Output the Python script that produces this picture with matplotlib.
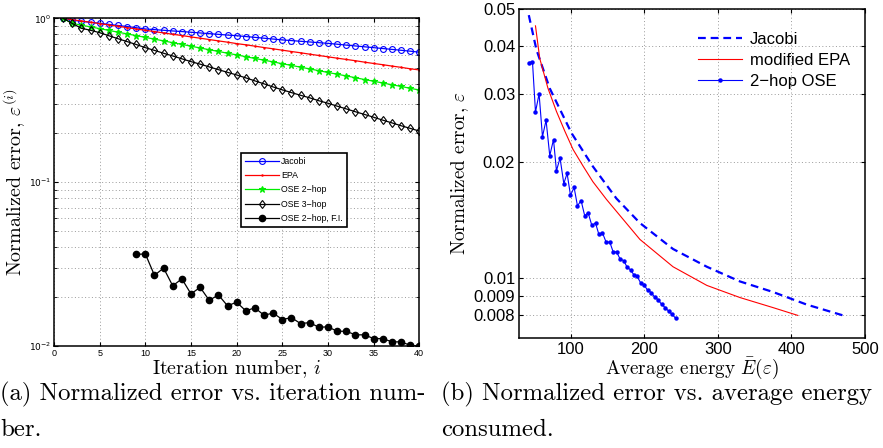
import numpy as np
import matplotlib
matplotlib.use("Agg")
import matplotlib.pyplot as plt
from matplotlib.ticker import FixedLocator, NullLocator, NullFormatter, FixedFormatter

plt.rcParams["mathtext.fontset"] = "cm"
plt.rcParams["axes.formatter.use_mathtext"] = True

SANS = "Liberation Sans"
SERIF = "cmr10"

# ---- panel (a): error vs iteration ----
iterations = list(range(1, 41))
jacobi = [1.000, 0.975, 0.958, 0.945, 0.933, 0.918, 0.904, 0.891, 0.876, 0.861,
          0.853, 0.845, 0.837, 0.830, 0.822, 0.814, 0.806, 0.798, 0.790, 0.783,
          0.774, 0.765, 0.756, 0.747, 0.738, 0.731, 0.724, 0.717, 0.710, 0.703,
          0.695, 0.686, 0.678, 0.670, 0.662, 0.654, 0.646, 0.638, 0.630, 0.621]
epa = [1.000, 0.981, 0.963, 0.946, 0.928, 0.911, 0.894, 0.877, 0.861, 0.845,
       0.830, 0.814, 0.799, 0.785, 0.770, 0.756, 0.742, 0.728, 0.715, 0.701,
       0.689, 0.676, 0.663, 0.651, 0.639, 0.627, 0.616, 0.604, 0.593, 0.582,
       0.571, 0.561, 0.551, 0.540, 0.530, 0.521, 0.511, 0.502, 0.492, 0.484]
ose2 = [1.000, 0.931, 0.908, 0.886, 0.865, 0.844, 0.823, 0.803, 0.784, 0.765,
        0.746, 0.728, 0.710, 0.693, 0.676, 0.659, 0.643, 0.628, 0.612, 0.598,
        0.583, 0.569, 0.555, 0.542, 0.528, 0.516, 0.503, 0.491, 0.479, 0.467,
        0.456, 0.445, 0.434, 0.423, 0.413, 0.403, 0.393, 0.384, 0.374, 0.365]
ose3 = [1.000, 0.930, 0.869, 0.845, 0.817, 0.783, 0.751, 0.721, 0.692, 0.662,
        0.637, 0.612, 0.589, 0.566, 0.544, 0.525, 0.505, 0.486, 0.468, 0.451,
        0.433, 0.415, 0.398, 0.381, 0.366, 0.352, 0.339, 0.327, 0.314, 0.303,
        0.291, 0.280, 0.269, 0.259, 0.249, 0.239, 0.230, 0.221, 0.213, 0.205]
fi_iter = list(range(9, 41))
ose2_fi = [0.0362, 0.0365, 0.0270, 0.0299, 0.0233, 0.0257, 0.0208, 0.0228,
           0.0190, 0.0205, 0.0176, 0.0185, 0.0164, 0.0171, 0.0154, 0.0159,
           0.0145, 0.0149, 0.0137, 0.0139, 0.0130, 0.0131, 0.0123, 0.0123,
           0.0117, 0.0117, 0.0111, 0.0111, 0.0106, 0.0106, 0.0101, 0.0100]

# ---- panel (b): error vs average energy ----
jac_energy = [42.9, 53.3, 71.4, 101, 130, 162, 194, 239, 285, 330, 375, 421, 470]
jac_err = [0.0482, 0.0392, 0.0311, 0.0238, 0.0195, 0.0161, 0.0139, 0.0119,
           0.0107, 0.0098, 0.0092, 0.00853, 0.0080]
mepa_energy = [52, 57.8, 69, 80.5, 91.8, 103, 117, 130, 148.6, 194, 239, 285,
               330, 375, 408.5]
mepa_err = [0.0452, 0.0372, 0.0311, 0.0271, 0.0241, 0.0216, 0.0195, 0.0178,
            0.0160, 0.0126, 0.0107, 0.00957, 0.0089, 0.00838, 0.0080]
ose_energy = [42.9, 47.9, 52.0, 56.9, 61.5, 66.4, 71.4, 76.5, 80.5, 85.4,
              90.5, 95.0, 99.6, 104.5, 109.1, 114.0, 119.0, 123.5, 128.6, 133.6,
              138.1, 143.1, 148.0, 153.0, 157.6, 162.2, 167.1, 172.1, 176.2,
              181.2, 185.7, 190.2, 194.8, 199.7, 204.3, 209.3, 213.9, 218.8,
              223.4, 228.3, 232.9, 237.8, 242.4]
ose_err = [0.0363, 0.0365, 0.0270, 0.0301, 0.0233, 0.0257, 0.0208, 0.0229,
           0.0190, 0.0205, 0.0176, 0.0187, 0.0164, 0.0172, 0.0154, 0.0159,
           0.0145, 0.0148, 0.0137, 0.0139, 0.0130, 0.0131, 0.0124, 0.0124,
           0.0117, 0.0117, 0.0112, 0.0111, 0.0107, 0.0105, 0.0102, 0.0101,
           0.00973, 0.00959, 0.00931, 0.00917, 0.00893, 0.00878, 0.00855,
           0.00838, 0.00821, 0.00805, 0.00787]

right_yticks = [0.008, 0.009, 0.01, 0.02, 0.03, 0.04, 0.05]
right_ylabels = ["0.008", "0.009", "0.01", "0.02", "0.03", "0.04", "0.05"]

fig = plt.figure(figsize=(8.83, 4.48), dpi=100)
W, H = 883, 448


def px_axes(x0, y0, x1, y1):
    return fig.add_axes([x0 / W, 1 - y1 / H, (x1 - x0) / W, (y1 - y0) / H])


grid_kw = dict(color="#9a9a9a", linestyle=(0, (1, 2.5)), linewidth=0.7)

# left panel
ax1 = px_axes(54, 18.3, 419.3, 346)
ax1.plot(iterations, jacobi, color="blue", lw=0.9, marker="o", ms=4.2,
         mfc="none", mew=0.8, label="Jacobi")
ax1.plot(iterations, epa, color="red", lw=0.9, marker=".", ms=1.5, label="EPA")
ax1.plot(iterations, ose2, color="#00ee00", lw=0.9, marker="*", ms=4.5,
         mew=0.8, label="OSE 2\u2212hop")
ax1.plot(iterations, ose3, color="black", lw=0.9, marker="d", ms=4.5,
         mfc="none", mew=0.8, label="OSE 3\u2212hop")
ax1.plot(fi_iter, ose2_fi, color="black", lw=0.9, marker="o", ms=4.5,
         label="OSE 2\u2212hop, F.I.")
ax1.set_yscale("log")
ax1.set_xlim(0, 40)
ax1.set_ylim(1e-2, 1)
ax1.set_xticks(range(0, 41, 5))
ax1.set_xticklabels([str(v) for v in range(0, 41, 5)], fontsize=6.5, family=SANS)
ax1.yaxis.set_major_locator(FixedLocator([1e-2, 1e-1, 1]))
ax1.yaxis.set_major_formatter(FixedFormatter([r"$10^{-2}$", r"$10^{-1}$", r"$10^{0}$"]))
ax1.yaxis.set_minor_formatter(NullFormatter())
for t in ax1.get_yticklabels():
    t.set_fontsize(6.5)
    t.set_math_fontfamily("dejavusans")
ax1.tick_params(which="both", direction="in", top=True, right=True, pad=2)
ax1.tick_params(which="major", length=3)
ax1.tick_params(which="minor", length=2)
ax1.grid(True, which="major", **grid_kw)
ax1.grid(True, which="minor", axis="y", **grid_kw)
ax1.set_xlabel("Iteration number, $i$", family=SERIF, fontsize=14.4, labelpad=0)
ax1.set_ylabel(r"Normalized error, $\varepsilon^{(i)}$", family=SERIF,
               fontsize=14.4, labelpad=1)
leg1 = ax1.legend(loc="upper left", bbox_to_anchor=(0.513, 0.59),
                  prop={"family": SANS, "size": 6.3}, fancybox=False,
                  edgecolor="black", framealpha=1, handlelength=3.8,
                  borderpad=0.45, labelspacing=0.62, handletextpad=0.3,
                  borderaxespad=0)
leg1.get_frame().set_linewidth(1.2)
for sp in ax1.spines.values():
    sp.set_linewidth(1.1)

# right panel
ax2 = px_axes(519.3, 9, 865, 337.7)
ax2.plot(jac_energy, jac_err, color="blue", lw=1.6, linestyle=(0, (3.5, 2.2)),
         label="Jacobi")
ax2.plot(mepa_energy, mepa_err, color="red", lw=0.8, label="modified EPA")
ax2.plot(ose_energy, ose_err, color="blue", lw=0.8, marker="o", ms=2.2,
         label="2\u2212hop OSE")
ax2.set_yscale("log")
ax2.set_xlim(30, 500)
ax2.set_ylim(0.007, 0.05)
ax2.set_xticks([100, 200, 300, 400, 500])
ax2.set_xticklabels(["100", "200", "300", "400", "500"], fontsize=12, family=SANS)
ax2.yaxis.set_major_locator(FixedLocator(right_yticks))
ax2.yaxis.set_major_formatter(FixedFormatter(right_ylabels))
ax2.yaxis.set_minor_locator(NullLocator())
for t in ax2.get_yticklabels():
    t.set_fontsize(12)
    t.set_family(SANS)
ax2.tick_params(which="both", direction="in", top=True, right=True, length=3, pad=3)
ax2.grid(True, which="major", **grid_kw)
ax2.set_xlabel(r"Average energy $\bar{E}(\varepsilon)$", family=SERIF,
               fontsize=13.8, labelpad=-1)
ax2.set_ylabel(r"Normalized error, $\varepsilon$", family=SERIF,
               fontsize=13.8, labelpad=2)
ax2.legend(loc="upper right", bbox_to_anchor=(1.0, 0.975), frameon=False,
           prop={"family": SANS, "size": 12}, handlelength=2.6,
           labelspacing=0.35, handletextpad=0.5)
for sp in ax2.spines.values():
    sp.set_linewidth(1.1)

# captions
cap_kw = dict(family=SERIF, fontsize=17.8, va="center", ha="left")
fig.text(0.0, 1 - 394 / H, "(a) Normalized error vs. iteration num-", **cap_kw)
fig.text(0.0, 1 - 430 / H, "ber.", **cap_kw)
fig.text(441 / W, 1 - 394 / H, "(b) Normalized error vs. average energy", **cap_kw)
fig.text(441 / W, 1 - 430 / H, "consumed.", **cap_kw)

fig.savefig("out.png", dpi=100)
